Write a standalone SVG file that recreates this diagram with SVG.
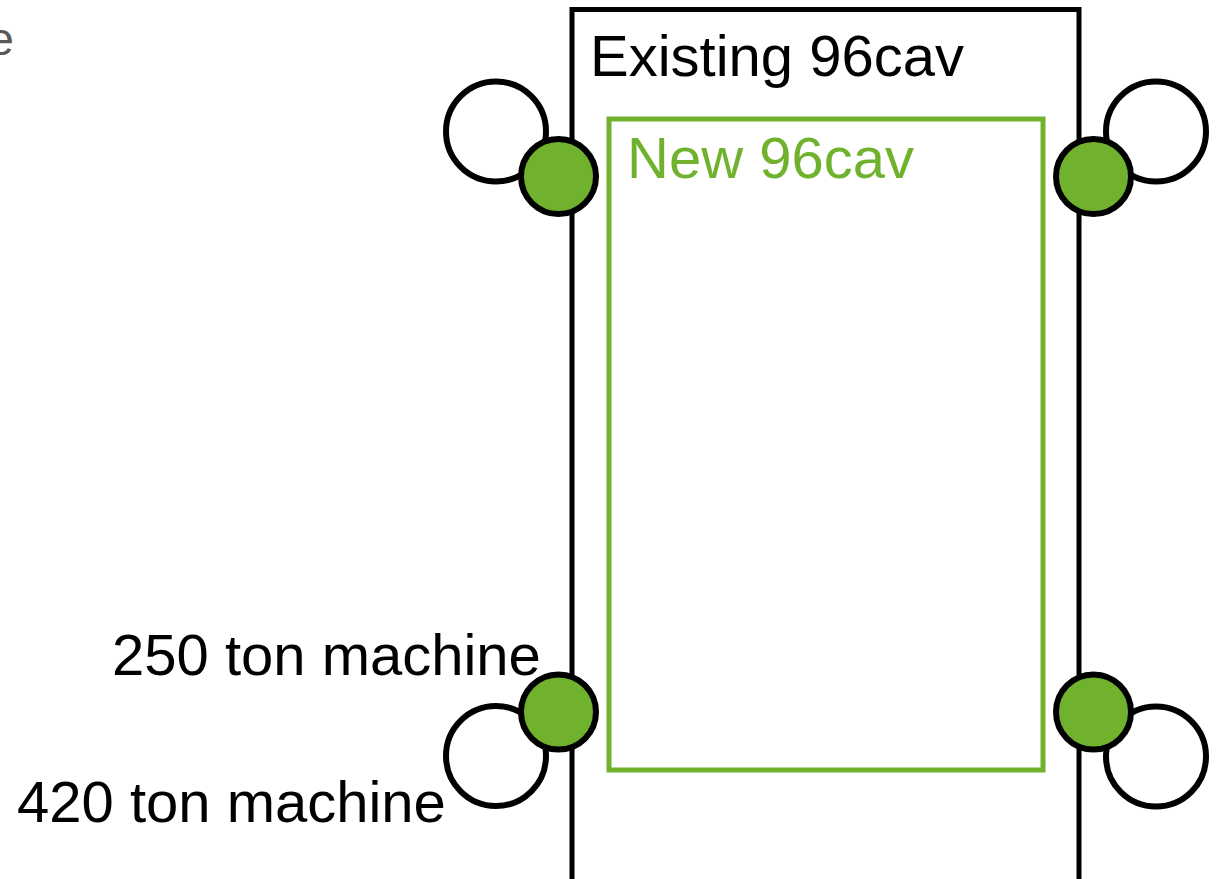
<svg xmlns="http://www.w3.org/2000/svg" width="1218" height="879" viewBox="0 0 1218 879">
<style>
text{font-family:"Liberation Sans",Arial,sans-serif}
.lbl{font-size:58px;fill:#000}
.ring{fill:#fff;stroke:#000;stroke-width:6}
.dot{fill:#70b22e;stroke:#000;stroke-width:6}
</style>
<rect width="1218" height="879" fill="#fff"/>
<text x="14" y="55" fill="#595959" text-anchor="end" style="font-size:47px">e</text>
<g id="existing">
<rect x="572" y="9.5" width="507" height="900" fill="none" stroke="#000" stroke-width="5"/>
<text class="lbl" x="590" y="76">Existing 96cav</text>
</g>
<g id="new">
<rect x="609" y="119" width="434" height="651" fill="none" stroke="#70b22e" stroke-width="5"/>
<text x="627" y="178" style="font-size:58px;fill:#70b22e">New 96cav</text>
</g>
<g id="tl">
<circle class="ring" cx="496" cy="131.5" r="50"/>
<circle class="dot" cx="558.5" cy="176.5" r="37.5"/>
</g>
<g id="tr">
<circle class="ring" cx="1156" cy="131.5" r="50"/>
<circle class="dot" cx="1093.5" cy="176.5" r="37.5"/>
</g>
<g id="bl">
<circle class="ring" cx="496" cy="756" r="50"/>
<circle class="dot" cx="558.5" cy="712" r="37.5"/>
</g>
<g id="br">
<circle class="ring" cx="1156" cy="756.5" r="50"/>
<circle class="dot" cx="1093.5" cy="712" r="37.5"/>
</g>
<g id="labels">
<text class="lbl" x="112" y="675">250 ton machine</text>
<text class="lbl" x="17" y="822">420 ton machine</text>
</g>
<g id="connectors"></g>
</svg>
